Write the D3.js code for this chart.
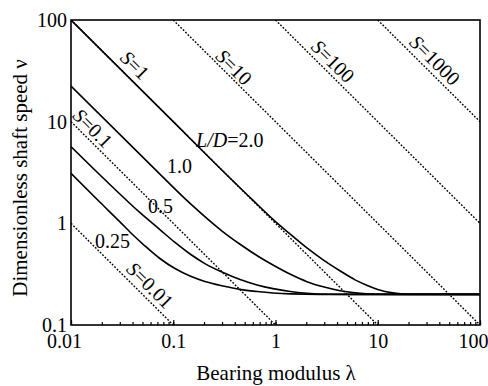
<!DOCTYPE html>
<html>
<head>
<meta charset="utf-8">
<script src="https://cdn.jsdelivr.net/npm/d3@7"></script>
<style>
  body { margin: 0; background: #fff; }
  svg { display: block; font-family: "Liberation Serif", "Times New Roman", serif; }
</style>
</head>
<body>
<div id="chart"></div>
<script>
const width = 488;
const height = 386;

// axis ticks
const xTicks = [0.01, 0.1, 1, 10, 100];
const yTicks = [0.1, 1, 10, 100];

// dotted S lines (end points)
const sValues = [0.01, 0.1, 1, 10, 100, 1000];
const sStart = [[0.01, 1], [0.01, 10], [0.01, 100], [0.1, 100], [1, 100], [10, 100]];
const sEnd = [[0.1, 0.1], [1, 0.1], [10, 0.1], [100, 0.1], [100, 1], [100, 10]];
const sLabelAt = [[0.0593, 0.247], [0.0164, 8.65], [0.0423, 36], [0.393, 34.4], [3.65, 39.4], [36.3, 40.3]];

// solid curves, one per L/D
const ldLabels = ["2.0", "1.0", "0.5", "0.25"];
const lam20 = [0.01, 0.1, 0.3, 0.6, 1.0, 1.4, 2.0, 2.9, 4.3, 6, 7.9, 10, 14, 20, 100];
const nu20 = [100, 10, 3.33, 1.69, 1.04, 0.78, 0.58, 0.44, 0.34, 0.278, 0.245, 0.224, 0.207, 0.201, 0.2];
const lam10 = [0.01, 0.06, 0.146, 0.3, 0.45, 0.7, 0.945, 1.4, 2.03, 3, 4.28, 6, 10, 26, 100];
const nu10 = [22.4, 3.76, 1.57, 0.84, 0.623, 0.464, 0.389, 0.315, 0.267, 0.236, 0.217, 0.207, 0.201, 0.2, 0.2];
const lam05 = [0.01, 0.024, 0.047, 0.074, 0.104, 0.146, 0.204, 0.307, 0.45, 0.66, 0.945, 1.39, 2.03, 3.4, 6.7, 100];
const nu05 = [5.67, 2.41, 1.28, 0.869, 0.648, 0.499, 0.402, 0.328, 0.28, 0.248, 0.228, 0.2135, 0.2055, 0.201, 0.2, 0.2];
const lam025 = [0.01, 0.0192, 0.0301, 0.0395, 0.053, 0.074, 0.104, 0.146, 0.204, 0.307, 0.45, 0.66, 0.945, 1.39, 2.72, 100];
const nu025 = [3.1, 1.61, 1.034, 0.785, 0.598, 0.451, 0.359, 0.303, 0.268, 0.242, 0.224, 0.2135, 0.2064, 0.2022, 0.2, 0.2];
const ldLabelAt = [[0.167, 5.63], [0.0869, 3.12], [0.0566, 1.263], [0.01717, 0.571]];

const curves = [[lam20, nu20], [lam10, nu10], [lam05, nu05], [lam025, nu025]]
    .map(([l, n]) => l.map((d, i) => [d, n[i]]));

const svg = d3.select("#chart")
    .append("svg")
    .attr("width", width)
    .attr("height", height);

const x = d3.scaleLog()
    .domain([0.01, 100])
    .range([71, 480]);

const y = d3.scaleLog()
    .domain([0.1, 100])
    .range([325, 20]);

svg.append("clipPath")
    .attr("id", "plot")
    .append("rect")
    .attr("x", 71).attr("y", 20)
    .attr("width", 409).attr("height", 305);

const line = d3.line()
    .x(d => x(d[0]))
    .y(d => y(d[1]));

// dotted S lines
svg.append("g")
    .attr("clip-path", "url(#plot)")
    .selectAll("path")
    .data(sValues)
    .enter()
    .append("path")
    .attr("d", (d, i) => line([sStart[i], sEnd[i]]))
    .attr("fill", "none")
    .attr("stroke", "#000")
    .attr("stroke-width", 1.4)
    .attr("stroke-dasharray", "1.8,1.6");

// S labels
const angle = Math.atan2(y(0.1) - y(1), x(10) - x(1)) * 180 / Math.PI;
const sLab = svg.selectAll(".slabel")
    .data(sValues)
    .enter()
    .append("text")
    .attr("class", "slabel")
    .attr("transform", (d, i) => `translate(${x(sLabelAt[i][0])},${y(sLabelAt[i][1])}) rotate(${angle})`)
    .attr("text-anchor", "middle")
    .attr("dy", "0.35em")
    .style("font-size", "20px");
sLab.append("tspan").style("font-style", "italic").text("S");
sLab.append("tspan").text(d => "=" + d);

// L/D curves
svg.append("g")
    .attr("clip-path", "url(#plot)")
    .selectAll("path")
    .data(curves)
    .enter()
    .append("path")
    .attr("d", line.curve(d3.curveMonotoneX))
    .attr("fill", "none")
    .attr("stroke", "#000")
    .attr("stroke-width", 1.6);

// curve labels
const ldLab = svg.selectAll(".ldlabel")
    .data(ldLabels)
    .enter()
    .append("text")
    .attr("class", "ldlabel")
    .attr("x", (d, i) => x(ldLabelAt[i][0]))
    .attr("y", (d, i) => y(ldLabelAt[i][1]))
    .style("font-size", "20px");
ldLab.filter((d, i) => i === 0).append("tspan").style("font-style", "italic").text("L/D");
ldLab.append("tspan").text((d, i) => (i === 0 ? "=" : "") + d);

// X axis labels
const xAxis = svg.append("g")
    .attr("transform", "translate(0,325)")
    .call(d3.axisBottom(x)
        .tickValues(xTicks)
        .tickSize(0)
        .tickPadding(9)
        .tickFormat(String));
xAxis.select(".domain").remove();
xAxis.selectAll("text")
    .style("font-size", "20px")
    .style("font-family", "Liberation Serif, Times New Roman, serif")
    .attr("dx", (d, i) => (i === 0 || i === xTicks.length - 1) ? -7 : 0);

// X minor and major ticks, pointing inwards
svg.append("g")
    .attr("transform", "translate(0,325)")
    .call(d3.axisBottom(x).tickValues(x.ticks()).tickSize(-3).tickFormat(""))
    .call(g => g.select(".domain").remove())
    .selectAll("line").attr("stroke-width", 1.2);
svg.append("g")
    .attr("transform", "translate(0,325)")
    .call(d3.axisBottom(x).tickValues(xTicks).tickSize(-5).tickFormat(""))
    .call(g => g.select(".domain").remove())
    .selectAll("line").attr("stroke-width", 1.2);

// Y axis labels
const yAxis = svg.append("g")
    .attr("transform", "translate(71,0)")
    .call(d3.axisLeft(y)
        .tickValues(yTicks)
        .tickSize(0)
        .tickPadding(4)
        .tickFormat(String));
yAxis.select(".domain").remove();
yAxis.selectAll("text")
    .style("font-size", "20px")
    .style("font-family", "Liberation Serif, Times New Roman, serif");

// frame
svg.append("rect")
    .attr("x", 71).attr("y", 20)
    .attr("width", 409).attr("height", 305)
    .attr("fill", "none")
    .attr("stroke", "#000")
    .attr("stroke-width", 1.6);

// axis titles
svg.append("text")
    .attr("text-anchor", "middle")
    .attr("x", 276)
    .attr("y", 380)
    .style("font-size", "21px")
    .text("Bearing modulus λ");

svg.append("text")
    .attr("text-anchor", "middle")
    .attr("transform", "translate(27,178) rotate(-90)")
    .style("font-size", "21px")
    .text("Dimensionless shaft speed ν");
</script>
</body>
</html>
